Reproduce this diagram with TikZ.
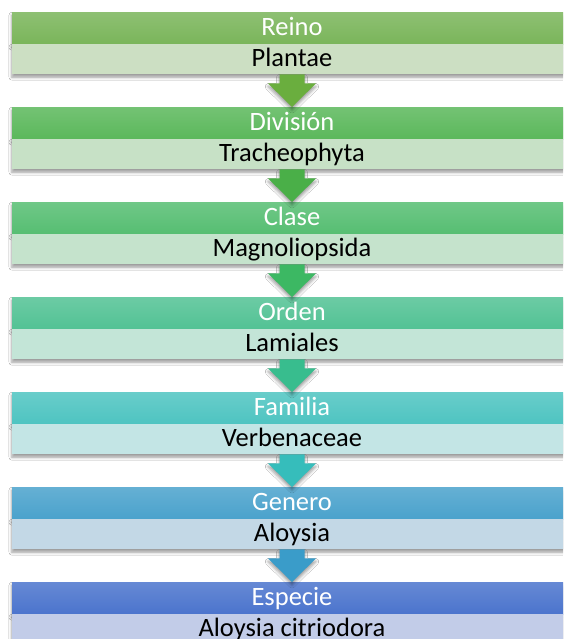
\documentclass[tikz,border=0pt]{standalone}
\usepackage{fontspec}
\setmainfont{Carlito}
\usetikzlibrary{shadows.blur,calc}
\definecolor{hc1}{HTML}{7AB55A}
\definecolor{hc2}{HTML}{5BB85B}
\definecolor{hc3}{HTML}{56BE72}
\definecolor{hc4}{HTML}{52C294}
\definecolor{hc5}{HTML}{4EC4C1}
\definecolor{hc6}{HTML}{4AA2CC}
\definecolor{hc7}{HTML}{4B74CD}
\definecolor{sc1}{HTML}{CCDFC3}
\definecolor{sc2}{HTML}{C7E1C6}
\definecolor{sc3}{HTML}{C5E3CC}
\definecolor{sc4}{HTML}{C3E5D7}
\definecolor{sc5}{HTML}{C3E5E5}
\definecolor{sc6}{HTML}{C3D8E6}
\definecolor{sc7}{HTML}{C2CCE8}
\definecolor{ac1}{HTML}{6AAE3E}
\definecolor{ac2}{HTML}{4AAF48}
\definecolor{ac3}{HTML}{3CB863}
\definecolor{ac4}{HTML}{38BD8E}
\definecolor{ac5}{HTML}{36BDBB}
\definecolor{ac6}{HTML}{3A9CC9}
\begin{document}
\begin{tikzpicture}[x=1pt,y=-1pt,
  shd/.style={blur shadow={shadow xshift=0pt, shadow yshift=-3pt, shadow blur radius=3pt, shadow opacity=40}},
  hdr/.style={minimum width=560pt, minimum height=32pt, inner sep=0pt, text=white,
    font=\fontsize{26.5}{30}\selectfont, text height=20pt, text depth=6pt, anchor=north},
  subbox/.style={minimum width=560pt, minimum height=30pt, inner sep=0pt, text=black,
    font=\fontsize{26.5}{30}\selectfont, text height=20.5pt, text depth=5.5pt, anchor=north}
]
\useasboundingbox (0,0) rectangle (563,639);
\clip (0,0) rectangle (563,639);
\fill[white] (0,0) rectangle (563,639);
\foreach \i/\t/\a/\b in {1/12/Reino/Plantae, 2/107/División/Tracheophyta, 3/202/Clase/Magnoliopsida, 4/297/Orden/Lamiales, 5/392/Familia/Verbenaceae, 6/487/Genero/Aloysia, 7/582/Especie/Aloysia citriodora}{
  \node[hdr, shd, top color=hc\i!85!white, bottom color=hc\i] (h\i) at (292,\t) {\a};
  \node[subbox, shd, fill=sc\i] (s\i) at (292,\t+32) {\b};
}
\foreach \i [evaluate=\i as \j using int(\i+1)] in {1,...,6}{
  \fill[ac\i, shd] ($(s\i.south)+(-12.5,0)$) -- ($(s\i.south)+(-12.5,9)$) -- ($(s\i.south)+(-24,9)$)
    -- (h\j.north) -- ($(s\i.south)+(24,9)$) -- ($(s\i.south)+(12.5,9)$) -- ($(s\i.south)+(12.5,0)$) -- cycle;
}
\end{tikzpicture}
\end{document}
